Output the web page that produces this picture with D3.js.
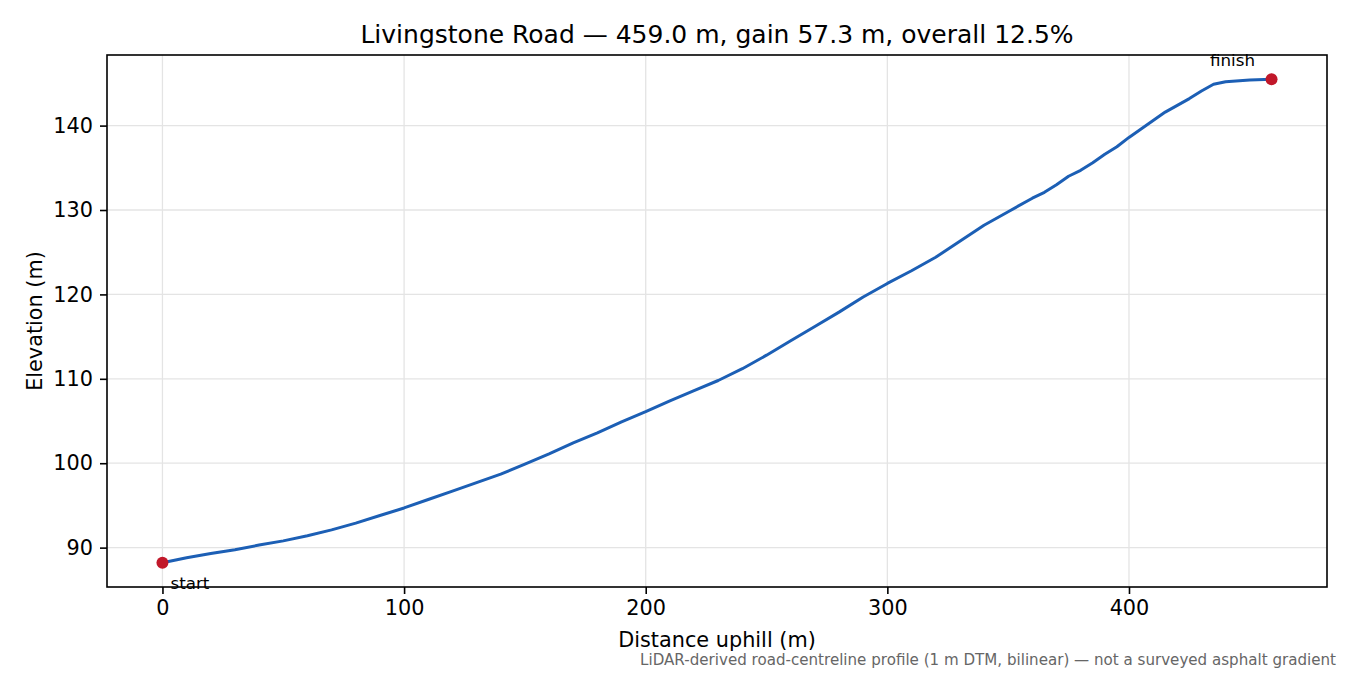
<!DOCTYPE html>
<head>
  <meta charset="utf-8" />
  <title>Livingstone Road profile</title>
  <style>
    body { margin: 0; background: #fff; }
    text { font-family: "DejaVu Sans", sans-serif; }
  </style>
</head>
<body>
  <script src="https://cdn.jsdelivr.net/npm/d3@7"></script>
  <script>
    // profile, distance (m) vs elevation (m)
    var distance = [0, 10, 20, 30, 40, 50, 60, 70, 80, 90, 100, 110, 120, 130, 140,
      150, 160, 170, 180, 190, 200, 210, 220, 230, 240, 250, 260, 270, 280, 290,
      300, 310, 320, 330, 340, 350, 360, 365, 370, 375, 380, 385, 390, 395, 400,
      405, 410, 415, 420, 425, 430, 435, 440, 450, 459];
    var elevation = [88.2, 88.8, 89.3, 89.75, 90.3, 90.8, 91.4, 92.1, 92.9, 93.8, 94.7,
      95.7, 96.7, 97.7, 98.7, 99.9, 101.1, 102.4, 103.6, 104.9, 106.1, 107.4, 108.6,
      109.8, 111.2, 112.8, 114.5, 116.2, 117.9, 119.7, 121.3, 122.8, 124.4, 126.3,
      128.2, 129.8, 131.4, 132.1, 133.0, 134.0, 134.7, 135.6, 136.6, 137.5, 138.6,
      139.6, 140.6, 141.6, 142.4, 143.2, 144.1, 144.9, 145.2, 145.4, 145.5];
    var xTicks = [0, 100, 200, 300, 400];
    var yTicks = [90, 100, 110, 120, 130, 140];

    var width = 1350, height = 675;
    var margin = { left: 107, right: 23, top: 55, bottom: 88 };

    var pts = distance.map(function (d, i) { return { d: d, e: elevation[i] }; });
    var first = pts[0], last = pts[pts.length - 1];

    // matplotlib-like 5% padding
    var xPad = (last.d - first.d) * 0.05;
    var eMin = d3.min(elevation), eMax = d3.max(elevation);
    var yPad = (eMax - eMin) * 0.05;

    var x = d3.scaleLinear()
      .domain([first.d - xPad, last.d + xPad])
      .range([margin.left, width - margin.right]);
    var y = d3.scaleLinear()
      .domain([eMin - yPad, eMax + yPad])
      .range([height - margin.bottom, margin.top]);

    var svg = d3.select("body").append("svg")
      .attr("width", width).attr("height", height);

    // grid
    svg.append("g").selectAll("line").data(xTicks).enter().append("line")
      .attr("x1", x).attr("x2", x)
      .attr("y1", margin.top).attr("y2", height - margin.bottom)
      .attr("stroke", "#e4e4e4").attr("stroke-width", 1.3);
    svg.append("g").selectAll("line").data(yTicks).enter().append("line")
      .attr("y1", y).attr("y2", y)
      .attr("x1", margin.left).attr("x2", width - margin.right)
      .attr("stroke", "#e4e4e4").attr("stroke-width", 1.3);

    // axes
    var xAxis = svg.append("g")
      .attr("transform", "translate(0," + (height - margin.bottom) + ")")
      .call(d3.axisBottom(x).tickValues(xTicks).tickSize(7).tickPadding(6).tickFormat(d3.format("d")));
    var yAxis = svg.append("g")
      .attr("transform", "translate(" + margin.left + ",0)")
      .call(d3.axisLeft(y).tickValues(yTicks).tickSize(7).tickPadding(7).tickFormat(d3.format("d")));
    [xAxis, yAxis].forEach(function (a) {
      a.select(".domain").remove();
      a.selectAll("text").attr("font-size", 20.8).attr("fill", "#000")
        .attr("font-family", "DejaVu Sans");
      a.selectAll("line").attr("stroke", "#000").attr("stroke-width", 1.6);
    });

    // profile
    var line = d3.line()
      .x(function (p) { return x(p.d); })
      .y(function (p) { return y(p.e); });
    svg.append("path").datum(pts)
      .attr("d", line)
      .attr("fill", "none")
      .attr("stroke", "#1c5fb5")
      .attr("stroke-width", 3)
      .attr("stroke-linejoin", "round");

    // start / finish
    svg.selectAll("circle.end").data([first, last]).enter().append("circle")
      .attr("class", "end")
      .attr("cx", function (p) { return x(p.d); })
      .attr("cy", function (p) { return y(p.e); })
      .attr("r", 6)
      .attr("fill", "#c1182a");

    // frame
    svg.append("rect")
      .attr("x", margin.left).attr("y", margin.top)
      .attr("width", width - margin.left - margin.right)
      .attr("height", height - margin.top - margin.bottom)
      .attr("fill", "none").attr("stroke", "#000").attr("stroke-width", 1.6);

    svg.append("text")
      .attr("x", x(first.d) + 8).attr("y", y(first.e) + 26)
      .attr("font-size", 16.7).text("start");
    svg.append("text")
      .attr("x", x(last.d) - 39).attr("y", y(last.e) - 13)
      .attr("text-anchor", "middle")
      .attr("font-size", 16.7).text("finish");

    // labels
    svg.append("text")
      .attr("x", (margin.left + width - margin.right) / 2).attr("y", 43)
      .attr("text-anchor", "middle").attr("font-size", 25)
      .text("Livingstone Road \u2014 459.0 m, gain 57.3 m, overall 12.5%");
    svg.append("text")
      .attr("x", (margin.left + width - margin.right) / 2).attr("y", 647)
      .attr("text-anchor", "middle").attr("font-size", 20.8)
      .text("Distance uphill (m)");
    svg.append("text")
      .attr("transform", "translate(42," + ((margin.top + height - margin.bottom) / 2) + ") rotate(-90)")
      .attr("text-anchor", "middle").attr("font-size", 20.8)
      .text("Elevation (m)");
    svg.append("text")
      .attr("x", 1336).attr("y", 665)
      .attr("text-anchor", "end").attr("font-size", 15.1).attr("fill", "#666")
      .text("LiDAR-derived road-centreline profile (1 m DTM, bilinear) \u2014 not a surveyed asphalt gradient");
  </script>
</body>
